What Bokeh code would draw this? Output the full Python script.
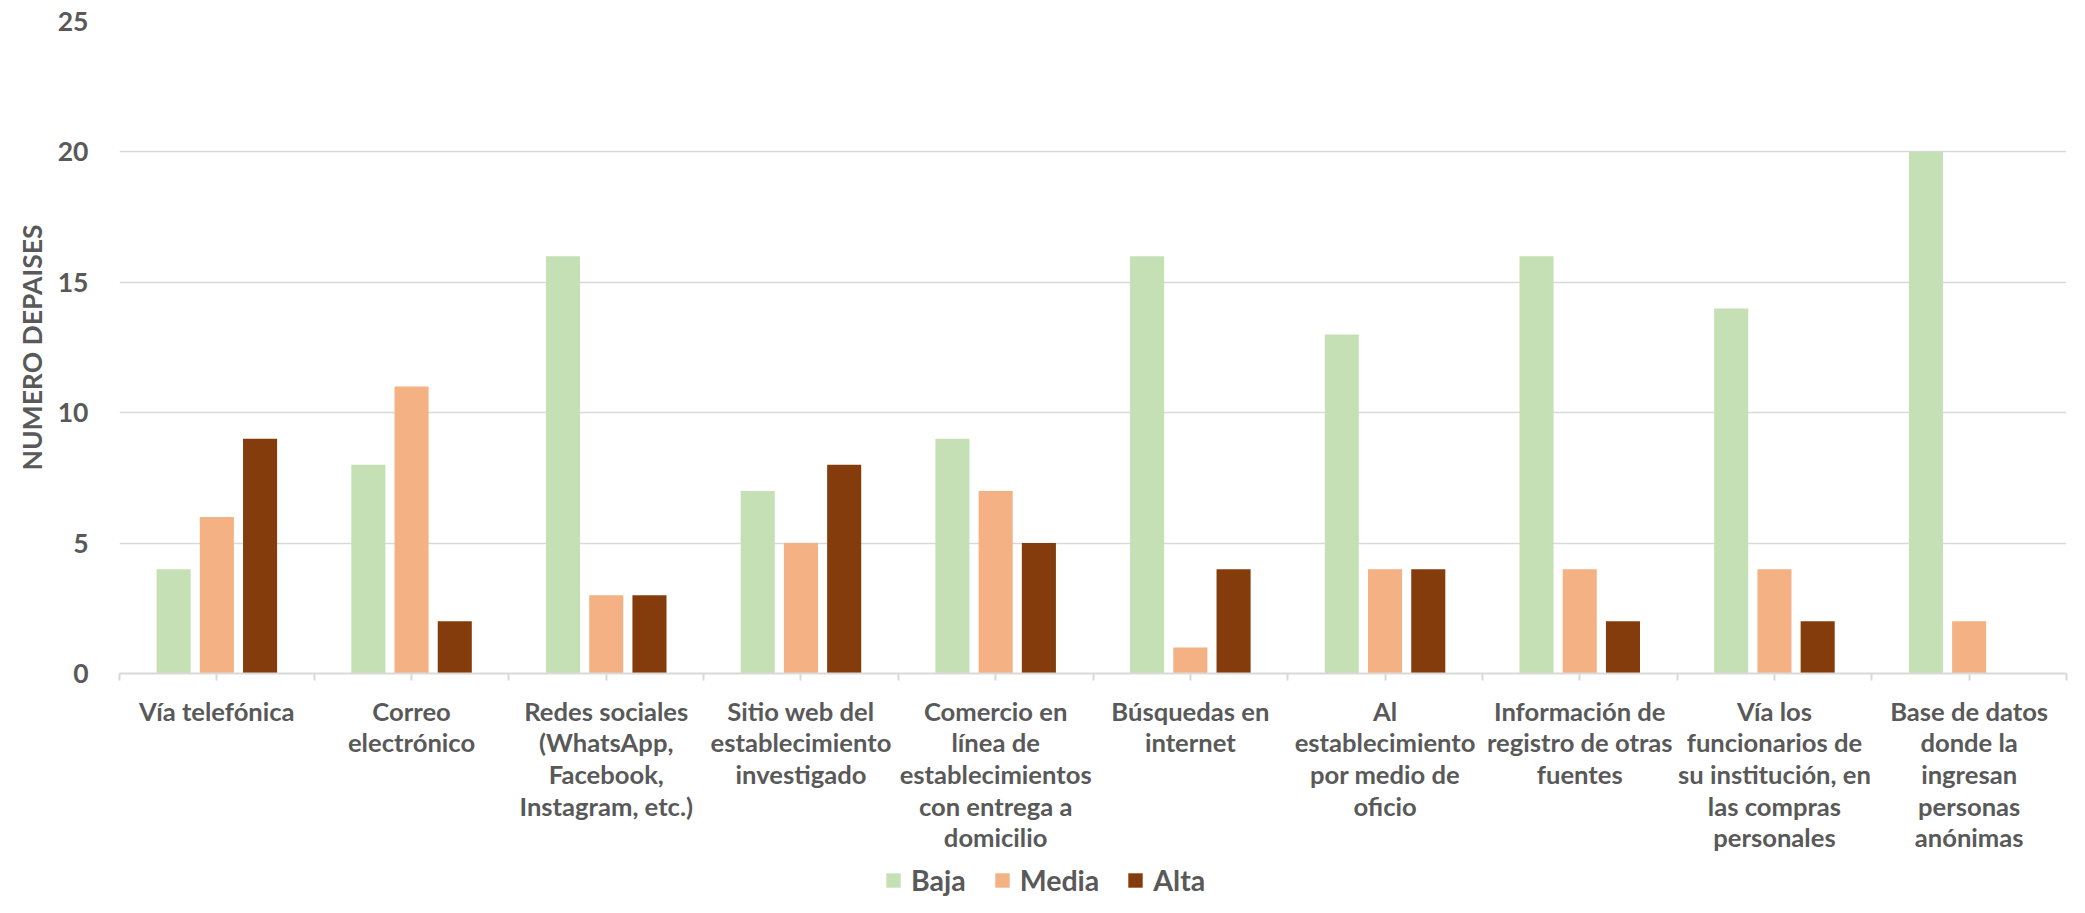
from bokeh.plotting import figure
from bokeh.models import ColumnDataSource, FixedTicker, Range1d, Legend, LegendItem
from bokeh.layouts import column
from bokeh.embed import file_html
from bokeh.resources import INLINE

categories = [
    "Vía telefónica",
    "Correo\nelectrónico",
    "Redes sociales\n(WhatsApp,\nFacebook,\nInstagram, etc.)",
    "Sitio web del\nestablecimiento\ninvestigado",
    "Comercio en\nlínea de\nestablecimientos\ncon entrega a\ndomicilio",
    "Búsquedas en\ninternet",
    "Al\nestablecimiento\npor medio de\noficio",
    "Información de\nregistro de otras\nfuentes",
    "Vía los\nfuncionarios de\nsu institución, en\nlas compras\npersonales",
    "Base de datos\ndonde la\ningresan\npersonas\nanónimas",
]
baja = [4, 8, 16, 7, 9, 16, 13, 16, 14, 20]
media = [6, 11, 3, 5, 7, 1, 4, 4, 4, 2]
alta = [9, 2, 3, 8, 5, 4, 4, 2, 2, 0]
series_names = ["Baja", "Media", "Alta"]
y_ticks = [0, 5, 10, 15, 20, 25]
y_label = "NUMERO DEPAISES"

colors = ["#c5e0b4", "#f4b183", "#843c0c"]
TXT = "#595959"
FONT = "Lato"

n = len(categories)
centers = [i + 0.5 for i in range(n)]

W = 2069
H_MAIN = 862
H_LEG = 35
LEFT = 119

p = figure(width=W, height=H_MAIN, output_backend="svg", toolbar_location=None,
           x_range=Range1d(0, n), y_range=Range1d(0, 25),
           min_border_left=LEFT, min_border_right=3, min_border_top=21,
           min_border_bottom=H_MAIN - 673)
p.outline_line_color = None
p.background_fill_color = "white"
p.border_fill_color = "white"

offsets = [-0.222, 0.0, 0.222]
for name, vals, off, col in zip(series_names, [baja, media, alta], offsets, colors):
    src = ColumnDataSource(dict(x=[c + off for c in centers], top=vals))
    p.vbar(x="x", top="top", width=0.175, bottom=0, source=src,
           fill_color=col, line_color=None)

# x axis
xa = p.xaxis[0]
xa.ticker = FixedTicker(ticks=centers, minor_ticks=list(range(n + 1)))
xa.major_label_overrides = {c: lab for c, lab in zip(centers, categories)}
xa.major_label_text_font = FONT
xa.major_label_text_font_style = "bold"
xa.major_label_text_font_size = "25.6px"
xa.major_label_text_color = TXT
xa.major_label_text_line_height = 1.058
xa.major_label_standoff = 15
xa.axis_line_color = "#d9d9d9"
xa.axis_line_width = 2
xa.major_tick_line_color = "#d9d9d9"
xa.minor_tick_line_color = "#d9d9d9"
xa.major_tick_line_width = 2
xa.minor_tick_line_width = 2
xa.major_tick_in = 0
xa.major_tick_out = 7
xa.minor_tick_in = 0
xa.minor_tick_out = 7

# y axis
ya = p.yaxis[0]
ya.ticker = FixedTicker(ticks=y_ticks)
ya.axis_line_color = None
ya.major_tick_line_color = None
ya.minor_tick_line_color = None
ya.major_label_text_font = FONT
ya.major_label_text_font_style = "bold"
ya.major_label_text_font_size = "26.5px"
ya.major_label_text_color = TXT
ya.major_label_standoff = 25
ya.axis_label = y_label
ya.axis_label_text_font = FONT
ya.axis_label_text_font_style = "bold"
ya.axis_label_text_font_size = "26.5px"
ya.axis_label_text_color = TXT
ya.axis_label_standoff = 7

p.xgrid.grid_line_color = None
p.ygrid.grid_line_color = "#d9d9d9"
p.ygrid.grid_line_width = 1.5
p.ygrid.ticker = FixedTicker(ticks=y_ticks)

# legend strip (its plotting area is aligned with the main chart's, from x = LEFT)
lp = figure(width=W, height=H_LEG, output_backend="svg", toolbar_location=None,
            x_range=Range1d(0, 1), y_range=Range1d(0, 1), min_border=0,
            x_axis_location=None, y_axis_location=None)
lp.grid.grid_line_color = None
lp.outline_line_color = None
lp.background_fill_color = "white"
lp.border_fill_color = "white"
items = []
for name, col in zip(series_names, colors):
    r = lp.vbar(x=[0.5], top=[0], bottom=[0], width=0.001, fill_color=col, line_color=None)
    items.append(LegendItem(label=name, renderers=[r]))
legend = Legend(items=items, orientation="horizontal", location=(884 - LEFT, 0),
                glyph_width=18, glyph_height=18, label_standoff=9, spacing=27,
                padding=0, margin=0, border_line_color=None, background_fill_alpha=0,
                label_text_font=FONT, label_text_font_style="bold",
                label_text_font_size="28.5px", label_text_color=TXT)
lp.add_layout(legend, "center")

layout = column(p, lp, spacing=0)
open("out.html", "w").write(file_html(layout, INLINE))
